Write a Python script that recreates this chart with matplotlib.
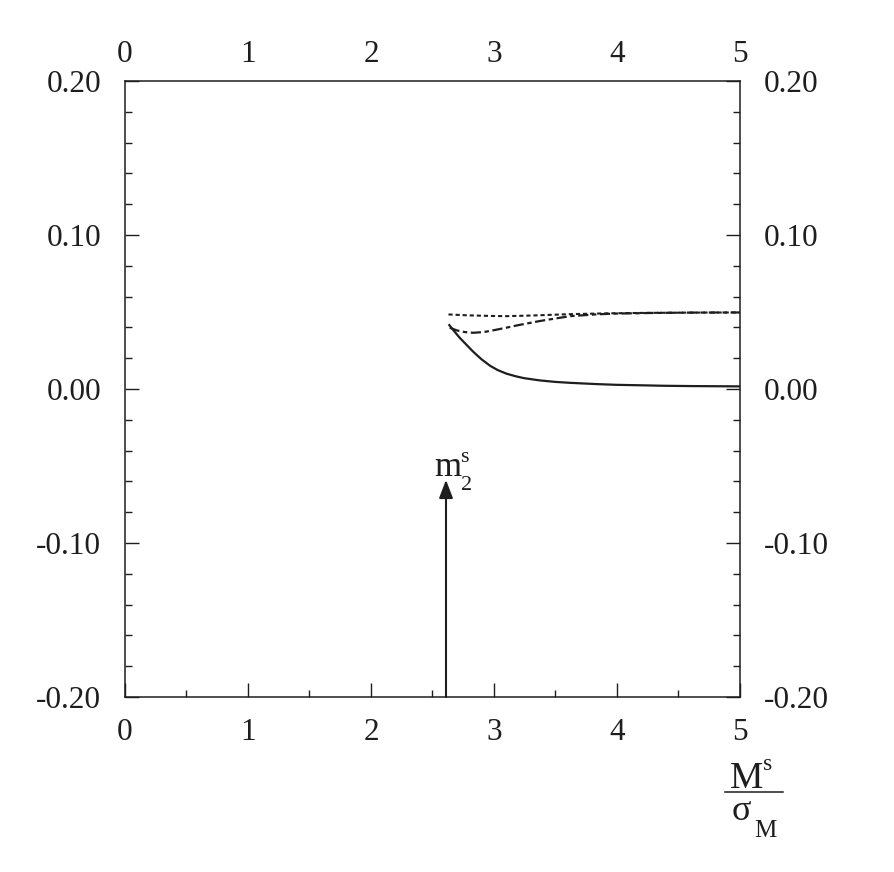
import matplotlib
matplotlib.use("Agg")
import matplotlib.pyplot as plt
from matplotlib.ticker import MultipleLocator, FormatStrFormatter

plt.rcParams['font.family'] = ['Liberation Serif', 'DejaVu Serif']

# curves
x_solid = [2.637, 2.68, 2.72, 2.78, 2.83, 2.90, 2.97, 3.03, 3.10, 3.17, 3.24, 3.37,
           3.50, 3.62, 3.83, 4.00, 4.20, 4.38, 4.60, 4.80, 5.00]
y_solid = [0.0415, 0.0372, 0.0334, 0.0284, 0.0243, 0.0192, 0.0150, 0.0123, 0.0100,
           0.0084, 0.0071, 0.0056, 0.0046, 0.0040, 0.0032, 0.0027, 0.0024, 0.0021,
           0.0019, 0.0018, 0.0017]

x_dashdot = [2.64, 2.70, 2.76, 2.83, 2.92, 3.00, 3.10, 3.20, 3.37, 3.50, 3.62, 3.84,
             4.00, 4.30, 4.60, 5.00]
y_dashdot = [0.0398, 0.0380, 0.0370, 0.0365, 0.0370, 0.0382, 0.0398, 0.0415, 0.0441,
             0.0458, 0.0473, 0.0485, 0.0490, 0.0494, 0.0496, 0.0497]

x_dotted = [2.63, 2.80, 3.00, 3.10, 3.30, 3.62, 3.90, 4.20, 4.60, 5.00]
y_dotted = [0.0484, 0.0478, 0.0474, 0.0473, 0.0477, 0.0486, 0.0491, 0.0494, 0.0496, 0.0497]

m2s_pos = 2.61
m2s_tip = -0.059
ink = '#1e1e1e'

fig = plt.figure(figsize=(8.94, 8.72), dpi=100)
ax = fig.add_axes([0.1398, 0.2007, 0.6879, 0.7064])

ax.plot(x_solid, y_solid, color=ink, lw=1.6)
ax.plot(x_dashdot, y_dashdot, color=ink, lw=1.6, dashes=(4.6, 1.6, 2.0, 1.6))
ax.plot(x_dotted, y_dotted, color=ink, lw=1.5, dashes=(2.0, 1.4))

ax.annotate('', xy=(m2s_pos, m2s_tip), xytext=(m2s_pos, -0.20),
            arrowprops=dict(arrowstyle='-|>,head_length=1.1,head_width=0.42',
                            mutation_scale=10, color=ink, lw=1.5,
                            shrinkA=0, shrinkB=0))

ax.set_xlim(0, 5)
ax.set_ylim(-0.20, 0.20)
ax.xaxis.set_major_locator(MultipleLocator(1))
ax.xaxis.set_minor_locator(MultipleLocator(0.5))
ax.yaxis.set_major_locator(MultipleLocator(0.1))
ax.yaxis.set_minor_locator(MultipleLocator(0.02))
ax.yaxis.set_major_formatter(FormatStrFormatter('%.2f'))

for s in ax.spines.values():
    s.set_linewidth(1.1)
    s.set_color(ink)

ax.tick_params(which='both', direction='in', top=True, right=True,
               labelleft=True, labelright=True, labeltop=False, labelsize=22.5,
               colors=ink, width=1.0)
ax.tick_params(which='major', length=10)
ax.tick_params(which='minor', length=5)
ax.tick_params(axis='x', which='major', pad=15)
ax.tick_params(axis='y', which='major', pad=17)

# top tick labels sit closer to the frame than the bottom ones
top = ax.twiny()
top.set_xlim(ax.get_xlim())
top.xaxis.set_major_locator(MultipleLocator(1))
top.tick_params(axis='x', which='both', length=0, pad=9, labelsize=22.5, colors=ink)
for s in top.spines.values():
    s.set_visible(False)


def px(x, y):
    return x / 894, 1 - y / 872


# m_2^s label over the arrow
fig.text(*px(434, 476), 'm', fontsize=25, ha='left', va='baseline', color=ink)
fig.text(*px(460, 462), 's', fontsize=16, ha='left', va='baseline', color=ink)
fig.text(*px(461, 490), '2', fontsize=16, ha='left', va='baseline', color=ink)

# x label as a stacked fraction M^s / sigma_M
fig.text(*px(730, 788), 'M', fontsize=27, ha='left', va='baseline', color=ink)
fig.text(*px(763, 770), 's', fontsize=17, ha='left', va='baseline', color=ink)
fig.add_artist(plt.Line2D([725 / 894, 783 / 894], [1 - 792 / 872, 1 - 792 / 872],
                          color=ink, lw=1.1))
fig.text(*px(732, 820), 'σ', fontsize=26, ha='left', va='baseline', color=ink)
fig.text(*px(754, 837), 'M', fontsize=18, ha='left', va='baseline', color=ink)

fig.savefig('out.png', dpi=100)
